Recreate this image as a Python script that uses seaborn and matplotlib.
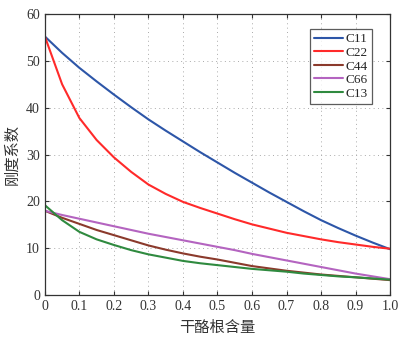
import matplotlib
matplotlib.use("Agg")
import matplotlib.pyplot as plt
import seaborn as sns
import pandas as pd

# 干酪根含量
x = [0, 0.05, 0.1, 0.15, 0.2, 0.25, 0.3, 0.35, 0.4, 0.45, 0.5, 0.55, 0.6,
     0.65, 0.7, 0.75, 0.8, 0.85, 0.9, 0.95, 1.0]
c11 = [55.2, 51.7, 48.5, 45.6, 42.8, 40.1, 37.5, 35.1, 32.8, 30.5, 28.3, 26.1, 24.0,
       21.9, 19.9, 17.9, 16.0, 14.3, 12.7, 11.2, 9.8]
c22 = [55.2, 45.0, 37.8, 33.1, 29.4, 26.3, 23.6, 21.6, 19.9, 18.6, 17.4, 16.2, 15.1,
       14.2, 13.3, 12.6, 11.9, 11.3, 10.8, 10.3, 9.9]
c44 = [18.0, 16.5, 15.2, 13.9, 12.8, 11.7, 10.6, 9.7, 8.9, 8.2, 7.6, 6.9, 6.2,
       5.7, 5.2, 4.8, 4.4, 4.1, 3.8, 3.5, 3.2]
c66 = [18.0, 17.1, 16.3, 15.5, 14.7, 13.9, 13.1, 12.4, 11.7, 11.0, 10.3, 9.6, 8.8,
       8.1, 7.4, 6.7, 6.0, 5.3, 4.6, 4.0, 3.4]
c13 = [19.2, 16.0, 13.5, 11.9, 10.7, 9.6, 8.7, 8.0, 7.3, 6.8, 6.4, 6.0, 5.6,
       5.3, 5.0, 4.6, 4.3, 4.0, 3.8, 3.55, 3.3]

names = ["C11", "C22", "C44", "C66", "C13"]
colors = ["#2d56a8", "#ff2a2a", "#8b3a2c", "#b464c0", "#2f8a3f"]

df = pd.DataFrame({"x": x, "C11": c11, "C22": c22, "C44": c44, "C66": c66, "C13": c13})
long = df.melt(id_vars="x", var_name="name", value_name="val")

sns.set_style("ticks")
plt.rcParams["font.family"] = ["Liberation Serif", "Noto Sans CJK SC"]
plt.rcParams["xtick.direction"] = "in"
plt.rcParams["ytick.direction"] = "in"

fig = plt.figure(figsize=(4.19, 3.4), dpi=100)
ax = fig.add_axes([0.107, 0.132, 0.824, 0.827])
sns.lineplot(data=long, x="x", y="val", hue="name", hue_order=names,
             palette=colors, linewidth=1.5, ax=ax)

ax.set_xlim(0, 1)
ax.set_ylim(0, 60)
ax.set_xticks([i / 10 for i in range(11)])
ax.set_xticklabels(["0"] + [f"{i/10:.1f}" for i in range(1, 11)])
ax.set_yticks(range(0, 61, 10))
ax.tick_params(labelsize=10, colors="#333333", top=True, right=True, length=3)
ax.grid(True, linestyle=(0, (1, 3.5)), color="#aaaaaa", linewidth=0.7)
for s in ax.spines.values():
    s.set_color("#333333")
    s.set_linewidth(0.9)

ax.set_xlabel("干酪根含量", fontsize=11, family=["Noto Sans CJK SC"], color="#333333")
ax.set_ylabel("刚度系数", fontsize=11, family=["Noto Sans CJK SC"], color="#333333",
              labelpad=4)

leg = ax.legend(loc="upper right", bbox_to_anchor=(0.955, 0.955), fontsize=9.5,
                frameon=True, fancybox=False, handlelength=2.2, handletextpad=0.2,
                labelspacing=0.1, borderpad=0.3, borderaxespad=0.2, title=None)
leg.get_frame().set_edgecolor("#333333")
leg.get_frame().set_linewidth(0.9)

fig.savefig("out.png", dpi=100)
